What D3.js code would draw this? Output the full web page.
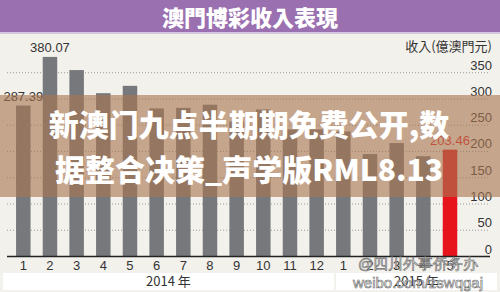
<!DOCTYPE html>
<html>
<head>
<meta charset="utf-8">
<script src="https://cdn.jsdelivr.net/npm/d3@7"></script>
<style>
  html, body { margin: 0; padding: 0; background: #f3f1ec; }
  svg { display: block; }
</style>
</head>
<body>
<div id="chart"></div>
<script>
// data
const months = ["1","2","3","4","5","6","7","8","9","10","11","12","1","2","3","4","5"]
const years = ["2014","2014","2014","2014","2014","2014","2014","2014","2014","2014","2014","2014","2015","2015","2015","2015","2015"]
const revenue = [287.39, 380.07, 355, 311, 325, 282, 283, 289, 257, 280, 242, 242, 238, 195, 216, 191, 203.46]
const yTicks = [0, 50, 100, 150, 200, 250, 300, 350]
const yearNames = ["2014", "2015"]
const yearLabels = ["2014 年", "2015 年"]
const shownValues = [0, 1, 16]   // bars that carry a value label

const width = 500, height = 292
const numFont = '"Liberation Sans", Arial, sans-serif'
const cjkFont = '"Noto Sans CJK TC", "Noto Sans CJK SC", sans-serif'

const svg = d3.select('#chart').append('svg')
  .attr('width', width)
  .attr('height', height)

svg.append('rect').attr('width', width).attr('height', height).attr('fill', '#f3f1ec')

const keys = months.map((m, i) => years[i] + '-' + m)
const x = d3.scalePoint().domain(keys).range([23.3, 450])
const y = d3.scaleLinear().domain([0, 350]).range([256.5, 72.7])
const barW = 14.5

// title banner
svg.append('rect').attr('x', 0).attr('y', 0).attr('width', width).attr('height', 32).attr('fill', '#9a70b0')
svg.append('rect').attr('x', 0).attr('y', 32).attr('width', width).attr('height', 2).attr('fill', '#d6c6df')
svg.append('text')
  .attr('x', 250).attr('y', 26)
  .attr('text-anchor', 'middle')
  .style('font-family', cjkFont).style('font-weight', 900).style('font-size', '22px')
  .attr('fill', '#ffffff')
  .text('澳門博彩收入表現')

// unit
svg.append('text')
  .attr('x', 492).attr('y', 51)
  .attr('text-anchor', 'end')
  .style('font-family', cjkFont).style('font-size', '13px')
  .attr('fill', '#333')
  .text('收入(億澳門元)')

// grid
const grid = svg.append('g')
grid.selectAll('line').data(yTicks.filter(d => d > 0)).enter().append('line')
  .attr('x1', 7).attr('x2', 490)
  .attr('y1', d => y(d)).attr('y2', d => y(d))
  .attr('stroke', '#9a9a9a').attr('stroke-width', 1).attr('stroke-dasharray', '1,2')
grid.selectAll('text').data(yTicks).enter().append('text')
  .attr('x', 492).attr('y', d => y(d) - 3)
  .attr('text-anchor', 'end')
  .style('font-family', numFont).style('font-size', '13px')
  .attr('fill', '#333')
  .text(d => d)

// bars
svg.append('g').selectAll('rect').data(revenue).enter().append('rect')
  .attr('x', (d, i) => x(keys[i]) - barW / 2)
  .attr('y', d => y(d))
  .attr('width', barW)
  .attr('height', d => y(0) - y(d))
  .attr('fill', (d, i) => i === revenue.length - 1 ? '#e8141c' : '#76787b')

// value labels
svg.append('g').selectAll('text').data(shownValues).enter().append('text')
  .attr('x', i => x(keys[i]))
  .attr('y', i => y(revenue[i]) - 5)
  .attr('text-anchor', 'middle')
  .style('font-family', numFont).style('font-size', '13px')
  .attr('fill', i => i === revenue.length - 1 ? '#e8141c' : '#333')
  .text(i => revenue[i].toFixed(2))

// baseline
svg.append('line')
  .attr('x1', 7).attr('x2', 490)
  .attr('y1', y(0)).attr('y2', y(0))
  .attr('stroke', '#222').attr('stroke-width', 1.5)

// month labels
svg.append('g').selectAll('text').data(months).enter().append('text')
  .attr('x', (d, i) => x(keys[i]))
  .attr('y', 270)
  .attr('text-anchor', 'middle')
  .style('font-family', numFont).style('font-size', '13px')
  .attr('fill', '#333')
  .text(d => d)

// year boxes
const step = x.step()
const lastOf = yr => keys[years.lastIndexOf(yr)]
const sep = x(lastOf('2014')) + step / 2 + 5
const boxes = [[3, sep - 1], [sep + 1, 497]]
const yearG = svg.append('g')
yearG.selectAll('rect').data(boxes).enter().append('rect')
  .attr('x', d => d[0]).attr('y', 273)
  .attr('width', d => d[1] - d[0]).attr('height', 17)
  .attr('fill', '#ffffff')
yearG.selectAll('text').data(yearLabels).enter().append('text')
  .attr('x', (d, i) => (boxes[i][0] + boxes[i][1]) / 2)
  .attr('y', 286)
  .attr('text-anchor', 'middle')
  .style('font-family', cjkFont).style('font-size', '13px')
  .attr('fill', '#333')
  .text(d => d)

// overlay band with headline
svg.append('rect')
  .attr('x', 0).attr('y', 95).attr('width', width).attr('height', 102)
  .attr('fill', 'rgba(168,118,80,0.62)')
const headline = ['新澳门九点半期期免费公开,数', '据整合决策_声学版RML8.13']
svg.append('g').selectAll('text').data(headline).enter().append('text')
  .attr('x', 249)
  .attr('y', (d, i) => 136 + i * 45)
  .attr('text-anchor', 'middle')
  .style('font-family', '"Noto Sans CJK SC", sans-serif').style('font-weight', 900).style('font-size', '30px')
  .attr('fill', '#ffffff')
  .text(d => d)

// watermark
const mark = ['@四川外事侨务办', 'weibo.com/zswqgaj']
svg.append('g').selectAll('text').data(mark).enter().append('text')
  .attr('x', 418)
  .attr('y', (d, i) => 269 + i * 19)
  .attr('text-anchor', 'middle')
  .style('font-family', numFont).style('font-size', '15px')
  .attr('fill', '#ffffff').attr('fill-opacity', 0.85)
  .attr('stroke', '#666').attr('stroke-width', 0.6)
  .text(d => d)
</script>
</body>
</html>
